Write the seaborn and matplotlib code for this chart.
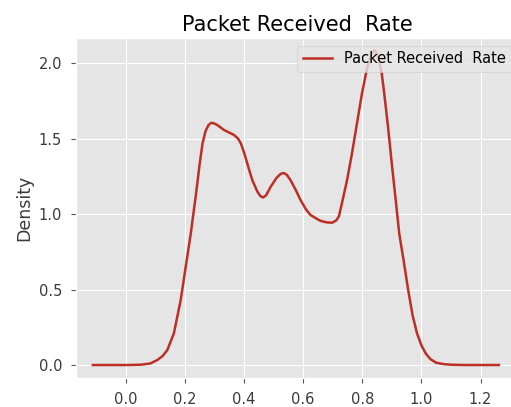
import matplotlib
matplotlib.use("Agg")
import matplotlib.pyplot as plt
import seaborn as sns
import pandas as pd

# Values
x_vals = [-0.111, -0.05, 0.0, 0.05, 0.083, 0.107, 0.125, 0.141, 0.163, 0.186,
          0.203, 0.22, 0.237, 0.25, 0.26, 0.27, 0.28, 0.29, 0.30, 0.31,
          0.332, 0.35, 0.366, 0.38, 0.389, 0.40, 0.415, 0.428, 0.445, 0.455,
          0.465, 0.475, 0.49, 0.51, 0.525, 0.535, 0.545, 0.557, 0.575, 0.591,
          0.61, 0.625, 0.645, 0.659, 0.68, 0.698, 0.712, 0.721, 0.731, 0.748,
          0.765, 0.782, 0.799, 0.815, 0.824, 0.833, 0.841, 0.85, 0.858, 0.866,
          0.876, 0.888, 0.9, 0.913, 0.925, 0.94, 0.955, 0.97, 0.985, 1.0,
          1.015, 1.03, 1.05, 1.075, 1.1, 1.15, 1.262]
density = [0.0, 0.0, 0.0, 0.002, 0.01, 0.033, 0.06, 0.10, 0.21, 0.43,
           0.65, 0.87, 1.12, 1.33, 1.47, 1.55, 1.59, 1.605, 1.60, 1.59,
           1.558, 1.54, 1.525, 1.50, 1.47, 1.41, 1.31, 1.226, 1.15, 1.12,
           1.11, 1.125, 1.18, 1.24, 1.268, 1.272, 1.26, 1.226, 1.16, 1.094,
           1.03, 0.994, 0.97, 0.955, 0.945, 0.943, 0.958, 0.985, 1.07, 1.22,
           1.40, 1.60, 1.80, 1.955, 2.02, 2.07, 2.085, 2.06, 2.01, 1.93,
           1.77, 1.56, 1.33, 1.094, 0.87, 0.69, 0.50, 0.33, 0.21, 0.13,
           0.075, 0.04, 0.015, 0.006, 0.002, 0.0, 0.0]
series_label = "Packet Received  Rate"
title_text = "Packet Received  Rate"
x_ticks = [0.0, 0.2, 0.4, 0.6, 0.8, 1.0, 1.2]
y_ticks = [0.0, 0.5, 1.0, 1.5, 2.0]

df = pd.DataFrame({"x": x_vals, "Density": density})

plt.style.use("ggplot")
fig = plt.figure(figsize=(5.11, 4.07), dpi=100)
ax = fig.add_axes([0.1487, 0.072, 0.867, 0.834])

sns.lineplot(data=df, x="x", y="Density", ax=ax, color="#bd2f26",
             linewidth=1.8, label=series_label, estimator=None, sort=False)

ax.set_xlim(-0.168, 1.33)
ax.set_ylim(-0.084, 2.165)
ax.set_xticks(x_ticks)
ax.set_yticks(y_ticks)
ax.set_xticklabels([f"{t:.1f}" for t in x_ticks], fontsize=10.5)
ax.set_yticklabels([f"{t:.1f}" for t in y_ticks], fontsize=10.5)
ax.tick_params(axis="both", length=3.5, pad=6.5, labelcolor="#3a3a3a")
ax.set_xlabel("")
ax.set_ylabel("Density", fontsize=12.5, color="#3a3a3a")
ax.set_title(title_text, fontsize=15, color="black", pad=5)
ax.legend(loc="upper right", fontsize=10.5)

fig.savefig("out.png", dpi=100)
